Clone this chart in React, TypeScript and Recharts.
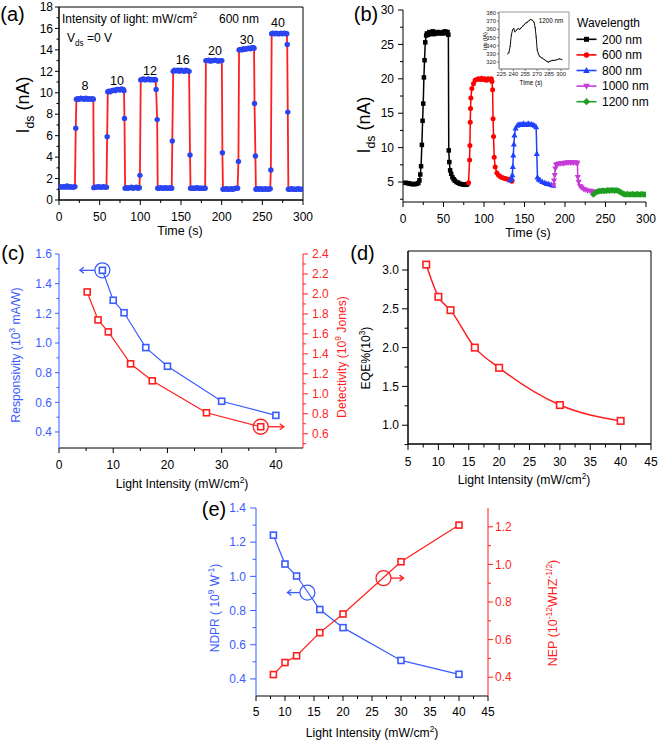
import React from 'react';
import { LineChart, Line, XAxis, YAxis, ReferenceArea, ReferenceDot } from 'recharts';

const FONT = '"Liberation Sans", Arial, Helvetica, sans-serif';
const BLUE = '#3a5cff';
const DOT_BLUE = '#2a45f0';
const RED = '#ff1f1f';
const MAGENTA = '#c63ad8';
const GREEN = '#1f9e1f';

// ---------------- (a) photocurrent vs time at 600 nm ----------------
const aTrace: [number, number][] = [
  [0, 1.2], [2, 1.25], [4, 1.2], [6, 1.25], [8, 1.2], [10, 1.3], [12, 1.2], [14, 1.25], [16, 1.2], [18, 1.2], [19.6, 1.25],
  [20.6, 6.7],
  [21.4, 9.4], [23, 9.45], [25, 9.4], [27, 9.5], [29, 9.45], [31, 9.4], [33, 9.5], [35, 9.4], [37, 9.45], [39, 9.4], [41, 9.45], [42.2, 9.4],
  [42.8, 1.15], [44.5, 1.2], [46.5, 1.2], [48.5, 1.25], [50.5, 1.2], [52.5, 1.2], [54.5, 1.25], [56.5, 1.2], [58.4, 1.2],
  [59.2, 5.9],
  [60, 10.1], [61.5, 10.15], [63, 10.1], [65, 10.2], [67, 10.25], [69, 10.2], [71, 10.3], [73, 10.3], [75, 10.25], [77, 10.35], [79, 10.3], [79.9, 10.2],
  [80.5, 7.6],
  [81.3, 1.1], [83, 1.15], [85, 1.1], [87, 1.15], [89, 1.2], [91, 1.1], [93, 1.15], [95, 1.2], [97, 1.1], [98.8, 1.15],
  [99.5, 2.3],
  [100.5, 11.2], [102, 11.25], [104, 11.3], [106, 11.2], [108, 11.25], [110, 11.3], [112, 11.2], [114, 11.25], [116, 11.2], [118, 11.25], [118.8, 11.2],
  [119.4, 10.3], [120.7, 7.5],
  [121.4, 1.1], [123, 1.1], [125, 1.15], [127, 1.1], [129, 1.1], [131, 1.15], [133, 1.1], [135, 1.1], [137, 1.15], [138.6, 1.1],
  [139.3, 5.5],
  [140.4, 12.0], [142, 12.1], [144, 12.05], [146, 12.1], [148, 12.0], [150, 12.1], [152, 12.05], [154, 12.0], [156, 12.1], [158, 12.05], [159.9, 12.0],
  [161.1, 4.2],
  [161.7, 1.1], [163.5, 1.1], [165.5, 1.1], [167.5, 1.1], [169.5, 1.15], [171.5, 1.1], [173.5, 1.1], [175.5, 1.1], [177.5, 1.1], [179.7, 1.1],
  [180.6, 13.0], [182, 13.0], [184, 13.05], [186, 12.95], [188, 13.0], [190, 13.0], [192, 13.05], [194, 13.0], [196, 12.95], [198, 13.0], [200.2, 13.0],
  [200.9, 4.4],
  [201.6, 1.0], [203.5, 1.0], [205.5, 1.05], [207.5, 1.0], [209.5, 1.0], [211.5, 1.05], [213.5, 1.0], [215.5, 1.05], [217.5, 1.1], [219.6, 1.1],
  [220.6, 3.6],
  [221.4, 14.0], [223, 14.05], [225, 14.0], [227, 14.1], [229, 14.05], [231, 14.1], [233, 14.15], [235, 14.1], [237, 14.2], [239, 14.2], [239.8, 14.15],
  [240.4, 9.0], [241.5, 4.1],
  [242.1, 1.0], [244, 1.05], [246, 1.0], [248, 1.05], [250, 1.0], [252, 1.0], [254, 1.05], [256, 1.0], [258, 1.0], [259.7, 1.05],
  [260.5, 2.8],
  [261.5, 15.5], [263, 15.55], [265, 15.5], [267, 15.55], [269, 15.5], [271, 15.5], [273, 15.55], [275, 15.5], [277, 15.55], [279, 15.5], [280.1, 15.5],
  [280.6, 14.5], [281.3, 8.2],
  [282, 1.0], [284, 1.0], [286, 1.05], [288, 1.0], [290, 1.0], [292, 1.0], [294, 1.05], [296, 1.0], [298, 1.0], [300, 1.0],
];
const aXTicks = [0, 25, 50, 75, 100, 125, 150, 175, 200, 225, 250, 275, 300];
const aXMajor = [0, 50, 100, 150, 200, 250, 300];
const aYTicks = [0, 1, 2, 3, 4, 5, 6, 7, 8, 9, 10, 11, 12, 13, 14, 15, 16, 17, 18];
const aYMajor = [0, 2, 4, 6, 8, 10, 12, 14, 16, 18];
const aPulseLabels = ['8', '10', '12', '16', '20', '30', '40'];

// ---------------- (b) wavelength dependence ----------------
const b200: [number, number][] = [
  [3, 4.9], [5, 4.85], [7, 4.8], [9, 4.75], [11, 4.7], [13, 4.7], [15, 4.7], [17, 4.75], [19, 4.85], [20.3, 5.25], [21.3, 6.1], [22.3, 7.3],
  [23.3, 10.4], [24.2, 13.9], [25, 16.4], [25.8, 20.2], [26.6, 22.7], [27.5, 25.3], [28.6, 26.3], [29.6, 26.6], [31, 26.4], [32.5, 26.8],
  [34, 26.5], [35.5, 26.6], [37, 26.9], [38.5, 26.5], [40, 26.7], [41.5, 26.6], [43, 26.8], [44.5, 26.6], [46, 26.7], [47.5, 26.6],
  [49, 26.8], [50.5, 26.6], [52, 26.9], [53.5, 26.7], [55, 26.8], [56, 26.4], [56.5, 9.6], [57.2, 7.9], [58.2, 6.7], [59.5, 6.2],
  [61, 5.7], [62.5, 5.4], [64, 5.2], [66, 5.0], [68, 4.9], [70, 4.75], [72, 4.7], [74, 4.65], [76, 4.6], [78, 4.6], [79.5, 4.7],
];
const b600: [number, number][] = [
  [80.9, 4.9], [82.2, 8.2], [82.6, 10.3], [83.0, 13.7], [83.4, 15.7], [83.8, 17.2], [85, 18.6], [87, 19.3], [89, 19.8], [91, 19.9],
  [93, 20.0], [95, 19.9], [97, 20.1], [99, 19.9], [101, 20.0], [103, 19.8], [105, 20.0], [107, 19.9], [109, 20.0], [109.8, 19.6],
  [110.6, 18.4], [111.2, 14.2], [111.8, 11.6], [112.6, 8.6], [113.8, 7.2], [115.9, 6.3], [118, 6.0], [120, 5.8], [122, 5.65],
  [124, 5.6], [126, 5.5], [128, 5.45], [130, 5.4], [132.3, 5.35], [134.4, 5.1],
];
const b800: [number, number][] = [
  [132.3, 5.25], [134.5, 5.5], [135, 6.0], [135.6, 7.2], [136.2, 8.9], [136.9, 10.5], [137.6, 11.8], [139, 12.8], [141, 13.2],
  [142.6, 13.3], [144.5, 13.4], [146.5, 13.3], [148.5, 13.5], [150.5, 13.4], [152.5, 13.3], [154.5, 13.5], [156.5, 13.4], [158.5, 13.4],
  [160.5, 13.3], [162.5, 13.2], [164.4, 13.0], [165.2, 9.1], [166, 5.7], [167.5, 5.4], [169.3, 5.25], [172, 5.05], [175, 4.9],
  [177.5, 4.76], [180, 4.7], [183, 4.6], [185.7, 4.5],
];
const b1000: [number, number][] = [
  [185.7, 4.5], [186.5, 5.2], [187.3, 6.0], [188.1, 6.95], [189, 7.5], [190.5, 7.6], [192.5, 7.65], [194.5, 7.7], [196.5, 7.75],
  [198.5, 7.7], [200.5, 7.8], [202.5, 7.8], [204.5, 7.85], [206.5, 7.8], [208.5, 7.85], [210.5, 7.8], [212.5, 7.85], [214.5, 7.8],
  [215.3, 7.7], [215.8, 5.7], [216.9, 5.0], [218.6, 4.4], [220.5, 4.2], [222.7, 4.0], [225, 3.9], [228, 3.75], [231, 3.7], [233, 3.65], [235, 3.6],
];
const b1200: [number, number][] = [
  [235, 3.2], [237, 3.4], [239, 3.55], [241, 3.65], [243, 3.7], [245, 3.7], [247, 3.75], [249, 3.7], [251, 3.75], [253, 3.8],
  [255, 3.75], [257, 3.8], [259, 3.8], [261, 3.75], [263, 3.8], [265, 3.75], [267, 3.65], [269, 3.5], [271, 3.35], [273, 3.25],
  [275, 3.2], [277, 3.25], [279, 3.2], [281, 3.2], [283, 3.25], [285, 3.2], [287, 3.2], [289, 3.25], [291, 3.2], [293, 3.2],
  [295, 3.25], [297, 3.2], [299, 3.2],
];
const bInset1200: [number, number][] = [
  [233, 330], [234.5, 332], [236, 339], [237.5, 353], [239, 359], [240.5, 361], [242, 357], [244, 359], [246, 361], [248, 360],
  [250, 362], [252, 364], [254, 366], [256, 368], [258, 369], [260, 371], [262, 372], [264, 371], [266, 369], [267.5, 362],
  [268.7, 351], [270, 335], [271.5, 330], [273, 327], [276, 325], [279, 323], [282, 321], [284, 320], [286, 321], [289, 322],
  [292, 322], [295, 323], [298, 324], [301, 323],
];
const bWavelengths = ['200 nm', '600 nm', '800 nm', '1000 nm', '1200 nm'];
const bXTicks = [0, 25, 50, 75, 100, 125, 150, 175, 200, 225, 250, 275, 300];
const bXMajor = [0, 50, 100, 150, 200, 250, 300];
const bYTicks = [2.5, 5, 7.5, 10, 12.5, 15, 17.5, 20, 22.5, 25, 27.5, 30];
const bYMajor = [5, 10, 15, 20, 25, 30];
const insetXTicks = [225, 240, 255, 270, 285, 300];
const insetYTicks = [320, 330, 340, 350, 360, 370, 380];

// ---------------- (c) responsivity & detectivity ----------------
const cIntensityR = [8, 10, 12, 16, 20, 30, 40];
const cResponsivity = [1.49, 1.288, 1.204, 0.969, 0.843, 0.607, 0.512];
const cIntensityD = [5.2, 7.2, 9.1, 13.2, 17.2, 27.2, 37.2];
const cDetectivity = [2.02, 1.74, 1.62, 1.3, 1.13, 0.81, 0.67];
const cXTicks = [0, 5, 10, 15, 20, 25, 30, 35, 40];
const cXMajor = [0, 10, 20, 30, 40];
const cYLTicks = [0.4, 0.5, 0.6, 0.7, 0.8, 0.9, 1.0, 1.1, 1.2, 1.3, 1.4, 1.5, 1.6];
const cYLMajor = [0.4, 0.6, 0.8, 1.0, 1.2, 1.4, 1.6];
const cYRTicks = [0.5, 0.6, 0.7, 0.8, 0.9, 1.0, 1.1, 1.2, 1.3, 1.4, 1.5, 1.6, 1.7, 1.8, 1.9, 2.0, 2.1, 2.2, 2.3, 2.4];
const cYRMajor = [0.6, 0.8, 1.0, 1.2, 1.4, 1.6, 1.8, 2.0, 2.2, 2.4];

// ---------------- (d) EQE ----------------
const dIntensity = [8, 10, 12, 16, 20, 30, 40];
const dEQE = [3.07, 2.655, 2.483, 2.0, 1.74, 1.26, 1.056];
const dXTicks = [5, 7.5, 10, 12.5, 15, 17.5, 20, 22.5, 25, 27.5, 30, 32.5, 35, 37.5, 40, 42.5, 45];
const dXMajor = [5, 10, 15, 20, 25, 30, 35, 40, 45];
const dYTicks = [0.75, 1.0, 1.25, 1.5, 1.75, 2.0, 2.25, 2.5, 2.75, 3.0];
const dYMajor = [1.0, 1.5, 2.0, 2.5, 3.0];

// ---------------- (e) NDPR & NEP ----------------
const eIntensity = [8, 10, 12, 16, 20, 30, 40];
const eNDPR = [1.241, 1.072, 1.002, 0.806, 0.7, 0.508, 0.427];
const eNEP = [0.414, 0.478, 0.514, 0.637, 0.736, 1.014, 1.209];
const eXTicks = [5, 7.5, 10, 12.5, 15, 17.5, 20, 22.5, 25, 27.5, 30, 32.5, 35, 37.5, 40, 42.5, 45];
const eXMajor = [5, 10, 15, 20, 25, 30, 35, 40, 45];
const eYLTicks = [0.4, 0.5, 0.6, 0.7, 0.8, 0.9, 1.0, 1.1, 1.2, 1.3, 1.4];
const eYLMajor = [0.4, 0.6, 0.8, 1.0, 1.2, 1.4];
const eYRTicks = [0.4, 0.5, 0.6, 0.7, 0.8, 0.9, 1.0, 1.1, 1.2];
const eYRMajor = [0.4, 0.6, 0.8, 1.0, 1.2];

// ---------------- helpers ----------------
const toXY = (pairs: [number, number][]) => pairs.map(([x, y]) => ({ x, y }));
const zipXY = (xs: number[], ys: number[]) => xs.map((x, i) => ({ x, y: ys[i] }));

type TickOpts = {
  side: 'bottom' | 'left' | 'right';
  majors: number[];
  size: number;
  minor: number;
  margin: number;
  color: string;
  lineColor?: string;
  fontSize: number;
  digits: number;
};
function makeTick(o: TickOpts) {
  return (props: any) => {
    const { x, y, payload } = props;
    const v = Number(payload?.value);
    const major = o.majors.some((m) => Math.abs(m - v) < 1e-6);
    const len = major ? o.size : o.minor;
    const lc = o.lineColor ?? o.color;
    const label = v.toFixed(o.digits);
    if (o.side === 'bottom') {
      const ay = y - o.size - o.margin;
      return (
        <g>
          <line x1={x} x2={x} y1={ay} y2={ay + len} stroke={lc} strokeWidth={1} />
          {major && (
            <text x={x} y={y} dy="0.71em" textAnchor="middle" fill={o.color} fontSize={o.fontSize} fontFamily={FONT}>
              {label}
            </text>
          )}
        </g>
      );
    }
    if (o.side === 'left') {
      const ax = x + o.size + o.margin;
      return (
        <g>
          <line x1={ax} x2={ax - len} y1={y} y2={y} stroke={lc} strokeWidth={1} />
          {major && (
            <text x={x} y={y} dy="0.355em" textAnchor="end" fill={o.color} fontSize={o.fontSize} fontFamily={FONT}>
              {label}
            </text>
          )}
        </g>
      );
    }
    const ax = x - o.size - o.margin;
    return (
      <g>
        <line x1={ax} x2={ax + len} y1={y} y2={y} stroke={lc} strokeWidth={1} />
        {major && (
          <text x={x} y={y} dy="0.355em" textAnchor="start" fill={o.color} fontSize={o.fontSize} fontFamily={FONT}>
            {label}
          </text>
        )}
      </g>
    );
  };
}

type Shape = 'square' | 'circle' | 'tri' | 'itri' | 'diamond' | 'hollowSquare';
function marker(shape: Shape, cx: number, cy: number, s: number, color: string, key?: any) {
  switch (shape) {
    case 'square':
      return <rect key={key} x={cx - s / 2} y={cy - s / 2} width={s} height={s} fill={color} />;
    case 'hollowSquare':
      return <rect key={key} x={cx - s / 2} y={cy - s / 2} width={s} height={s} fill="#fff" stroke={color} strokeWidth={1.6} />;
    case 'circle':
      return <circle key={key} cx={cx} cy={cy} r={s / 2} fill={color} />;
    case 'tri':
      return <path key={key} d={`M${cx},${cy - s * 0.6}L${cx + s * 0.55},${cy + s * 0.4}L${cx - s * 0.55},${cy + s * 0.4}Z`} fill={color} />;
    case 'itri':
      return <path key={key} d={`M${cx},${cy + s * 0.6}L${cx + s * 0.55},${cy - s * 0.4}L${cx - s * 0.55},${cy - s * 0.4}Z`} fill={color} />;
    default:
      return <path key={key} d={`M${cx},${cy - s * 0.6}L${cx + s * 0.6},${cy}L${cx},${cy + s * 0.6}L${cx - s * 0.6},${cy}Z`} fill={color} />;
  }
}
const dotFn = (shape: Shape, s: number, color: string) => (p: any) => {
  if (p == null || p.cx == null || p.cy == null) return <g key={p?.index} />;
  return marker(shape, p.cx, p.cy, s, color, p.index);
};

const annot = (dir: number, color: string, r: number, len: number) => (p: any) => {
  const { cx, cy } = p;
  const x0 = cx + dir * r;
  const x1 = x0 + dir * len;
  return (
    <g>
      <circle cx={cx} cy={cy} r={r} fill="none" stroke={color} strokeWidth={1.3} />
      <line x1={x0} y1={cy} x2={x1} y2={cy} stroke={color} strokeWidth={1.3} />
      <path d={`M${x1 - dir * 4},${cy - 3}L${x1},${cy}L${x1 - dir * 4},${cy + 3}`} fill="none" stroke={color} strokeWidth={1.3} />
    </g>
  );
};

type Part = [string, ('sup' | 'sub')?];
function Rich({ x, y, parts, size, fill = '#000', rotate = 0, anchor = 'middle' }: { x: number; y: number; parts: Part[]; size: number; fill?: string; rotate?: number; anchor?: 'start' | 'middle' | 'end' }) {
  let cur = 0;
  const spans = parts.map(([t, k], i) => {
    const target = k === 'sup' ? -0.42 * size : k === 'sub' ? 0.28 * size : 0;
    const dy = target - cur;
    cur = target;
    return (
      <tspan key={i} dy={dy} fontSize={k ? size * 0.68 : size}>
        {t}
      </tspan>
    );
  });
  return (
    <text x={x} y={y + 0.35 * size} textAnchor={anchor} fill={fill} fontSize={size} fontFamily={FONT} transform={rotate ? `rotate(${rotate} ${x} ${y})` : undefined}>
      {spans}
    </text>
  );
}

const Abs = ({ left, top, children }: { left: number; top: number; children: React.ReactNode }) => (
  <div style={{ position: 'absolute', left, top }}>{children}</div>
);

const bSeries: { name: string; data: [number, number][]; color: string; shape: Shape; s: number }[] = [
  { name: bWavelengths[0], data: b200, color: '#000000', shape: 'square', s: 4.5 },
  { name: bWavelengths[1], data: b600, color: '#ff0000', shape: 'circle', s: 5 },
  { name: bWavelengths[2], data: b800, color: '#2040ff', shape: 'tri', s: 5.5 },
  { name: bWavelengths[3], data: b1000, color: MAGENTA, shape: 'itri', s: 5.5 },
  { name: bWavelengths[4], data: b1200, color: GREEN, shape: 'diamond', s: 5.5 },
];

const aPulsePos = [[85, 86], [117, 80.7], [150, 71], [182.7, 59.3], [215, 51], [246.7, 39.3], [278, 22.3]];

export default function App() {
  const TK = 12;
  return (
    <div style={{ position: 'absolute', left: 0, top: 0, width: 660, height: 742, background: '#fff', overflow: 'hidden', fontFamily: FONT }}>
      {/* (a) */}
      <Abs left={0} top={0}>
        <LineChart width={322} height={230} margin={{ top: 7, right: 19, bottom: 0, left: 0 }}>
          <XAxis type="number" dataKey="x" domain={[0, 300]} ticks={aXTicks} interval={0} allowDataOverflow tickLine={false} tickSize={5} tickMargin={7} height={30} axisLine={{ stroke: '#000' }}
            tick={makeTick({ side: 'bottom', majors: aXMajor, size: 5, minor: 3, margin: 7, color: '#000', fontSize: TK, digits: 0 })} />
          <YAxis type="number" dataKey="y" domain={[0, 18]} ticks={aYTicks} interval={0} allowDataOverflow tickLine={false} tickSize={4} tickMargin={2} width={59} axisLine={{ stroke: '#000' }}
            tick={makeTick({ side: 'left', majors: aYMajor, size: 4, minor: 2.5, margin: 2, color: '#000', fontSize: TK, digits: 0 })} />
          <ReferenceArea x1={0} x2={300} y1={0} y2={18} fill="none" stroke="#000" strokeWidth={1} />
          <Line data={toXY(aTrace)} dataKey="y" stroke={RED} strokeWidth={1.8} isAnimationActive={false} activeDot={false}
            dot={{ r: 2.7, fill: DOT_BLUE, stroke: 'none' }} />
        </LineChart>
      </Abs>

      {/* (b) */}
      <Abs left={345} top={0}>
        <LineChart width={315} height={232} margin={{ top: 10, right: 14, bottom: 0, left: 0 }}>
          <XAxis type="number" dataKey="x" domain={[0, 300]} ticks={bXTicks} interval={0} allowDataOverflow tickLine={false} tickSize={5} tickMargin={7} height={30} axisLine={{ stroke: '#000' }}
            tick={makeTick({ side: 'bottom', majors: bXMajor, size: 5, minor: 3, margin: 7, color: '#000', fontSize: TK, digits: 0 })} />
          <YAxis type="number" dataKey="y" domain={[2.1, 30]} ticks={bYTicks} interval={0} allowDataOverflow tickLine={false} tickSize={5} tickMargin={4} width={58} axisLine={{ stroke: '#000' }}
            tick={makeTick({ side: 'left', majors: bYMajor, size: 5, minor: 3, margin: 4, color: '#000', fontSize: TK, digits: 0 })} />
          {bSeries.map((s) => (
            <Line key={s.name} name={s.name} data={toXY(s.data)} dataKey="y" stroke={s.color} strokeWidth={1.5} isAnimationActive={false} activeDot={false}
              dot={dotFn(s.shape, s.s, s.color)} />
          ))}
        </LineChart>
      </Abs>

      {/* (b) inset */}
      <Abs left={470} top={0}>
        <LineChart width={100} height={90} margin={{ top: 12, right: 1, bottom: 0, left: 0 }}>
          <XAxis type="number" dataKey="x" domain={[222, 310]} ticks={insetXTicks} interval={0} allowDataOverflow tickLine={false} tickSize={2} tickMargin={1} height={21} axisLine={{ stroke: '#999' }}
            tick={makeTick({ side: 'bottom', majors: insetXTicks, size: 2, minor: 1, margin: 1, color: '#222', lineColor: '#777', fontSize: 5.8, digits: 0 })} />
          <YAxis type="number" dataKey="y" domain={[311.5, 381.2]} ticks={insetYTicks} interval={0} allowDataOverflow tickLine={false} tickSize={2} tickMargin={1} width={29} axisLine={{ stroke: '#999' }}
            tick={makeTick({ side: 'left', majors: insetYTicks, size: 2, minor: 1, margin: 1, color: '#222', lineColor: '#777', fontSize: 5.8, digits: 0 })} />
          <ReferenceArea x1={222} x2={310} y1={311.5} y2={381.2} fill="none" stroke="#999" strokeWidth={1} />
          <Line data={toXY(bInset1200)} dataKey="y" stroke="#111" strokeWidth={1} isAnimationActive={false} activeDot={false}
            dot={{ r: 0.6, fill: '#111', stroke: 'none' }} />
        </LineChart>
      </Abs>

      {/* (c) */}
      <Abs left={0} top={240}>
        <LineChart width={340} height={258} margin={{ top: 14, right: 0, bottom: 0, left: 0 }}>
          <XAxis type="number" dataKey="x" domain={[0, 45]} ticks={cXTicks} interval={0} allowDataOverflow tickLine={false} tickSize={5} tickMargin={7} height={50} axisLine={{ stroke: '#000' }}
            tick={makeTick({ side: 'bottom', majors: cXMajor, size: 5, minor: 3, margin: 7, color: '#000', fontSize: TK, digits: 0 })} />
          <YAxis yAxisId="l" type="number" dataKey="y" domain={[0.292, 1.6]} ticks={cYLTicks} interval={0} allowDataOverflow tickLine={false} tickSize={4} tickMargin={3} width={59} axisLine={{ stroke: BLUE }}
            tick={makeTick({ side: 'left', majors: cYLMajor, size: 4, minor: 2.5, margin: 3, color: BLUE, fontSize: TK, digits: 1 })} />
          <YAxis yAxisId="r" orientation="right" type="number" dataKey="y" domain={[0.457, 2.4]} ticks={cYRTicks} interval={0} allowDataOverflow tickLine={false} tickSize={5} tickMargin={4} width={37} axisLine={{ stroke: RED }}
            tick={makeTick({ side: 'right', majors: cYRMajor, size: 5, minor: 3, margin: 4, color: RED, fontSize: TK, digits: 1 })} />
          <Line yAxisId="l" data={zipXY(cIntensityR, cResponsivity)} dataKey="y" stroke={BLUE} strokeWidth={1.2} isAnimationActive={false} activeDot={false}
            dot={dotFn('hollowSquare', 6, BLUE)} />
          <Line yAxisId="r" data={zipXY(cIntensityD, cDetectivity)} dataKey="y" stroke={RED} strokeWidth={1.2} isAnimationActive={false} activeDot={false}
            dot={dotFn('hollowSquare', 6, RED)} />
          <ReferenceDot yAxisId="l" x={cIntensityR[0]} y={cResponsivity[0]} r={7.5} shape={annot(-1, BLUE, 7.5, 15)} />
          <ReferenceDot yAxisId="r" x={cIntensityD[6]} y={cDetectivity[6]} r={7.5} shape={annot(1, RED, 7.5, 15.5)} />
        </LineChart>
      </Abs>

      {/* (d) */}
      <Abs left={350} top={240}>
        <LineChart width={318} height={240} margin={{ top: 11, right: 17, bottom: 0, left: 0 }}>
          <XAxis type="number" dataKey="x" domain={[5, 45]} ticks={dXTicks} interval={0} allowDataOverflow tickLine={false} tickSize={6} tickMargin={7} height={36} axisLine={{ stroke: '#000' }}
            tick={makeTick({ side: 'bottom', majors: dXMajor, size: 6, minor: 3.5, margin: 7, color: '#000', fontSize: TK, digits: 0 })} />
          <YAxis type="number" dataKey="y" domain={[0.758, 3.245]} ticks={dYTicks} interval={0} allowDataOverflow tickLine={false} tickSize={6} tickMargin={3} width={58} axisLine={{ stroke: '#000' }}
            tick={makeTick({ side: 'left', majors: dYMajor, size: 6, minor: 3.5, margin: 3, color: '#000', fontSize: TK, digits: 1 })} />
          <ReferenceArea x1={5} x2={45} y1={0.758} y2={3.245} fill="none" stroke="#000" strokeWidth={1} />
          <Line type="monotone" data={zipXY(dIntensity, dEQE)} dataKey="y" stroke={RED} strokeWidth={1.5} isAnimationActive={false} activeDot={false}
            dot={dotFn('hollowSquare', 6.5, RED)} />
        </LineChart>
      </Abs>

      {/* (e) */}
      <Abs left={200} top={495}>
        <LineChart width={340} height={245} margin={{ top: 13, right: 0, bottom: 0, left: 0 }}>
          <XAxis type="number" dataKey="x" domain={[5, 45]} ticks={eXTicks} interval={0} allowDataOverflow tickLine={false} tickSize={5} tickMargin={6} height={44} axisLine={{ stroke: '#000' }}
            tick={makeTick({ side: 'bottom', majors: eXMajor, size: 5, minor: 3, margin: 6, color: '#000', fontSize: TK, digits: 0 })} />
          <YAxis yAxisId="l" type="number" dataKey="y" domain={[0.3, 1.4]} ticks={eYLTicks} interval={0} allowDataOverflow tickLine={false} tickSize={6} tickMargin={4} width={56} axisLine={{ stroke: BLUE }}
            tick={makeTick({ side: 'left', majors: eYLMajor, size: 6, minor: 3.5, margin: 4, color: BLUE, fontSize: TK, digits: 1 })} />
          <YAxis yAxisId="r" orientation="right" type="number" dataKey="y" domain={[0.3, 1.3]} ticks={eYRTicks} interval={0} allowDataOverflow tickLine={false} tickSize={5} tickMargin={2} width={52} axisLine={{ stroke: RED }}
            tick={makeTick({ side: 'right', majors: eYRMajor, size: 5, minor: 3, margin: 2, color: RED, fontSize: TK, digits: 1 })} />
          <Line yAxisId="l" data={zipXY(eIntensity, eNDPR)} dataKey="y" stroke={BLUE} strokeWidth={1.2} isAnimationActive={false} activeDot={false}
            dot={dotFn('hollowSquare', 6, BLUE)} />
          <Line yAxisId="r" data={zipXY(eIntensity, eNEP)} dataKey="y" stroke={RED} strokeWidth={1.2} isAnimationActive={false} activeDot={false}
            dot={dotFn('hollowSquare', 6, RED)} />
          <ReferenceDot yAxisId="l" x={13.86} y={0.905} r={7.5} shape={annot(-1, BLUE, 7.5, 12.5)} />
          <ReferenceDot yAxisId="r" x={26.98} y={0.927} r={7.5} shape={annot(1, RED, 7.5, 12.5)} />
        </LineChart>
      </Abs>

      {/* text overlay */}
      <svg width={660} height={742} style={{ position: 'absolute', left: 0, top: 0, pointerEvents: 'none' }}>
        {/* (a) */}
        <Rich x={12.5} y={14} parts={[['(a)']]} size={20} />
        <Rich x={23} y={105} parts={[['I'], ['ds', 'sub'], [' (nA)']]} size={18} rotate={-90} />
        <Rich x={180} y={231} parts={[['Time (s)']]} size={12.5} />
        <Rich x={62} y={19} anchor="start" parts={[['Intensity of light: mW/cm'], ['2', 'sup']]} size={12} />
        <Rich x={219} y={19} anchor="start" parts={[['600 nm']]} size={12} />
        <Rich x={67} y={38} anchor="start" parts={[['V'], ['ds', 'sub'], [' =0 V']]} size={12} />
        {aPulseLabels.map((t, i) => (
          <Rich key={t} x={aPulsePos[i][0]} y={aPulsePos[i][1]} parts={[[t]]} size={12.5} />
        ))}
        {/* (b) */}
        <Rich x={366} y={14} parts={[['(b)']]} size={20} />
        <Rich x={364} y={125} parts={[['I'], ['ds', 'sub'], [' (nA)']]} size={18} rotate={-90} />
        <Rich x={528} y={233} parts={[['Time (s)']]} size={12.5} />
        <Rich x={551} y={21} parts={[['1200 nm']]} size={6.3} />
        <Rich x={485} y={41} parts={[['Ids (fA)']]} size={5.5} rotate={-90} />
        <Rich x={531} y={83} parts={[['Time (s)']]} size={6.3} />
        <Rich x={577} y={22.7} anchor="start" parts={[['Wavelength']]} size={12} />
        {bSeries.map((s, i) => {
          const cy = 39.3 + i * 15.6;
          return (
            <g key={s.name}>
              <line x1={576.5} x2={596.5} y1={cy} y2={cy} stroke={s.color} strokeWidth={1.6} />
              {marker(s.shape, 586.5, cy, s.s + 0.5, s.color)}
              <Rich x={602} y={cy} anchor="start" parts={[[s.name]]} size={12} />
            </g>
          );
        })}
        {/* (c) */}
        <Rich x={13} y={253} parts={[['(c)']]} size={20} />
        <Rich x={16} y={355} parts={[['Responsivity (10'], ['3', 'sup'], [' mA/W)']]} size={12.2} fill={BLUE} rotate={-90} />
        <Rich x={342} y={357} parts={[['Detectivity (10'], ['9', 'sup'], [' Jones)']]} size={12.2} fill={RED} rotate={-90} />
        <Rich x={182} y={484} parts={[['Light Intensity (mW/cm'], ['2', 'sup'], [')']]} size={12.2} />
        {/* (d) */}
        <Rich x={362.5} y={253} parts={[['(d)']]} size={20} />
        <Rich x={366} y={358} parts={[['EQE%(10'], ['3', 'sup'], [')']]} size={12.2} rotate={-90} />
        <Rich x={524} y={480} parts={[['Light Intensity (mW/cm'], ['2', 'sup'], [')']]} size={12.2} />
        {/* (e) */}
        <Rich x={214} y={509} parts={[['(e)']]} size={20} />
        <Rich x={215} y={608} parts={[['NDPR ( 10'], ['9', 'sup'], [' W'], ['-1', 'sup'], [')']]} size={12} fill={BLUE} rotate={-90} />
        <Rich x={553} y={613} parts={[['NEP (10'], ['-12', 'sup'], ['WHZ'], ['-1/2', 'sup'], [')']]} size={12.5} fill={RED} rotate={-90} />
        <Rich x={372} y={733} parts={[['Light Intensity (mW/cm'], ['2', 'sup'], [')']]} size={12.2} />
      </svg>
    </div>
  );
}
